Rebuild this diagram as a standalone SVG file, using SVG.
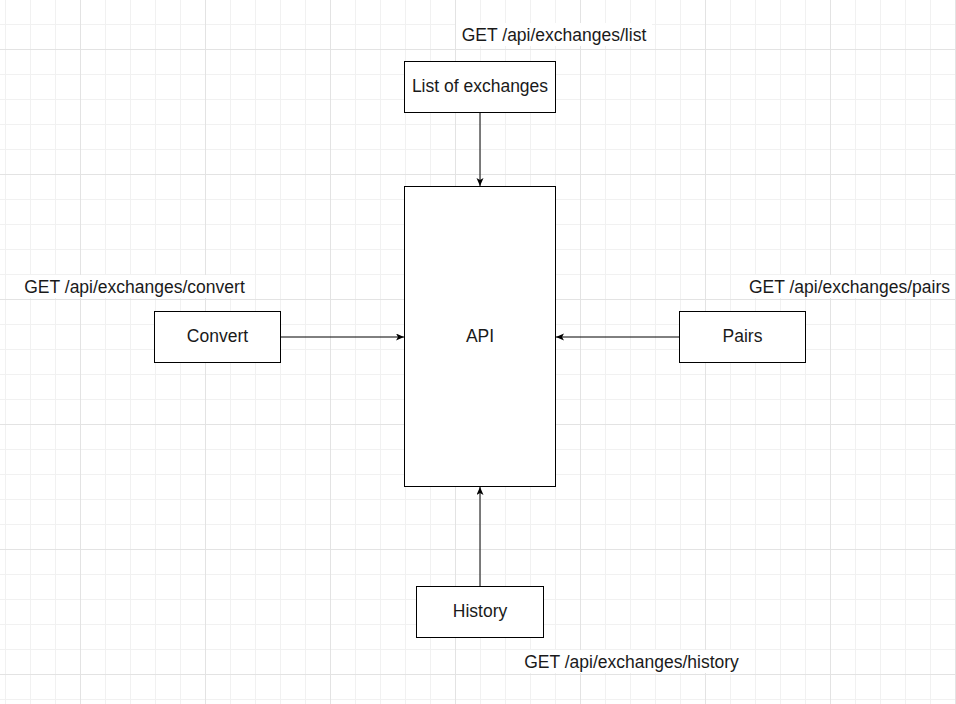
<svg xmlns="http://www.w3.org/2000/svg" width="956" height="704" viewBox="0 0 956 704">
  <style>
    .minor { stroke: #f1f1f1; stroke-width: 1; fill: none; }
    .major { stroke: #e3e3e3; stroke-width: 1; fill: none; }
    .box { fill: #ffffff; stroke: #000000; stroke-width: 1; }
    .lbl { font-family: "Liberation Sans", Arial, sans-serif; font-size: 17.5px; fill: #1a1a1a; text-anchor: middle; }
    .lblbg { fill: #ffffff; stroke: none; }
    .edge { stroke: #000000; stroke-width: 1; fill: none; }
  </style>
  <defs>
    <marker id="arrow" markerUnits="userSpaceOnUse" markerWidth="10" markerHeight="8" refX="8" refY="3.5" orient="auto">
      <path d="M0,0 L8,3.5 L0,7 L2,3.5 Z" fill="#000000"/>
    </marker>
  </defs>
  <rect x="0" y="0" width="956" height="704" fill="#ffffff"/>
  <g id="grid">
    <path class="minor" d="M5.5,0V704M30.5,0V704M55.5,0V704M105.5,0V704M130.5,0V704M155.5,0V704M180.5,0V704M230.5,0V704M255.5,0V704M280.5,0V704M305.5,0V704M355.5,0V704M380.5,0V704M405.5,0V704M430.5,0V704M480.5,0V704M505.5,0V704M530.5,0V704M555.5,0V704M605.5,0V704M630.5,0V704M655.5,0V704M680.5,0V704M730.5,0V704M755.5,0V704M780.5,0V704M805.5,0V704M855.5,0V704M880.5,0V704M905.5,0V704M930.5,0V704M0,24.5H956M0,74.5H956M0,99.5H956M0,124.5H956M0,149.5H956M0,199.5H956M0,224.5H956M0,249.5H956M0,274.5H956M0,324.5H956M0,349.5H956M0,374.5H956M0,399.5H956M0,449.5H956M0,474.5H956M0,499.5H956M0,524.5H956M0,574.5H956M0,599.5H956M0,624.5H956M0,649.5H956M0,699.5H956"/>
    <path class="major" d="M80.5,0V704M205.5,0V704M330.5,0V704M455.5,0V704M580.5,0V704M705.5,0V704M830.5,0V704M955.5,0V704M0,49.5H956M0,174.5H956M0,299.5H956M0,424.5H956M0,549.5H956M0,674.5H956"/>
  </g>
  <g id="labels">
    <rect class="lblbg" x="456" y="23" width="196" height="23"/>
    <text class="lbl" x="554" y="40.5">GET /api/exchanges/list</text>
    <rect class="lblbg" x="19" y="275" width="232" height="23"/>
    <text class="lbl" x="134.5" y="292.5">GET /api/exchanges/convert</text>
    <rect class="lblbg" x="744" y="275" width="211" height="23"/>
    <text class="lbl" x="849.5" y="292.5">GET /api/exchanges/pairs</text>
    <rect class="lblbg" x="519" y="650" width="226" height="23"/>
    <text class="lbl" x="631.5" y="667.5">GET /api/exchanges/history</text>
  </g>
  <g id="connectors">
    <path class="edge" d="M480,113 L480,186" marker-end="url(#arrow)"/>
    <path class="edge" d="M281,337 L404,337" marker-end="url(#arrow)"/>
    <path class="edge" d="M679,337 L556,337" marker-end="url(#arrow)"/>
    <path class="edge" d="M480,586 L480,487" marker-end="url(#arrow)"/>
  </g>
  <g id="node-list">
    <rect class="box" x="404.5" y="61.5" width="151" height="51"/>
    <text class="lbl" x="480" y="92">List of exchanges</text>
  </g>
  <g id="node-api">
    <rect class="box" x="404.5" y="186.5" width="151" height="300"/>
    <text class="lbl" x="480" y="342">API</text>
  </g>
  <g id="node-convert">
    <rect class="box" x="154.5" y="311.5" width="126" height="51"/>
    <text class="lbl" x="217.5" y="342">Convert</text>
  </g>
  <g id="node-pairs">
    <rect class="box" x="679.5" y="311.5" width="126" height="51"/>
    <text class="lbl" x="742.5" y="342">Pairs</text>
  </g>
  <g id="node-history">
    <rect class="box" x="416.5" y="586.5" width="127" height="51"/>
    <text class="lbl" x="480" y="617">History</text>
  </g>
</svg>
